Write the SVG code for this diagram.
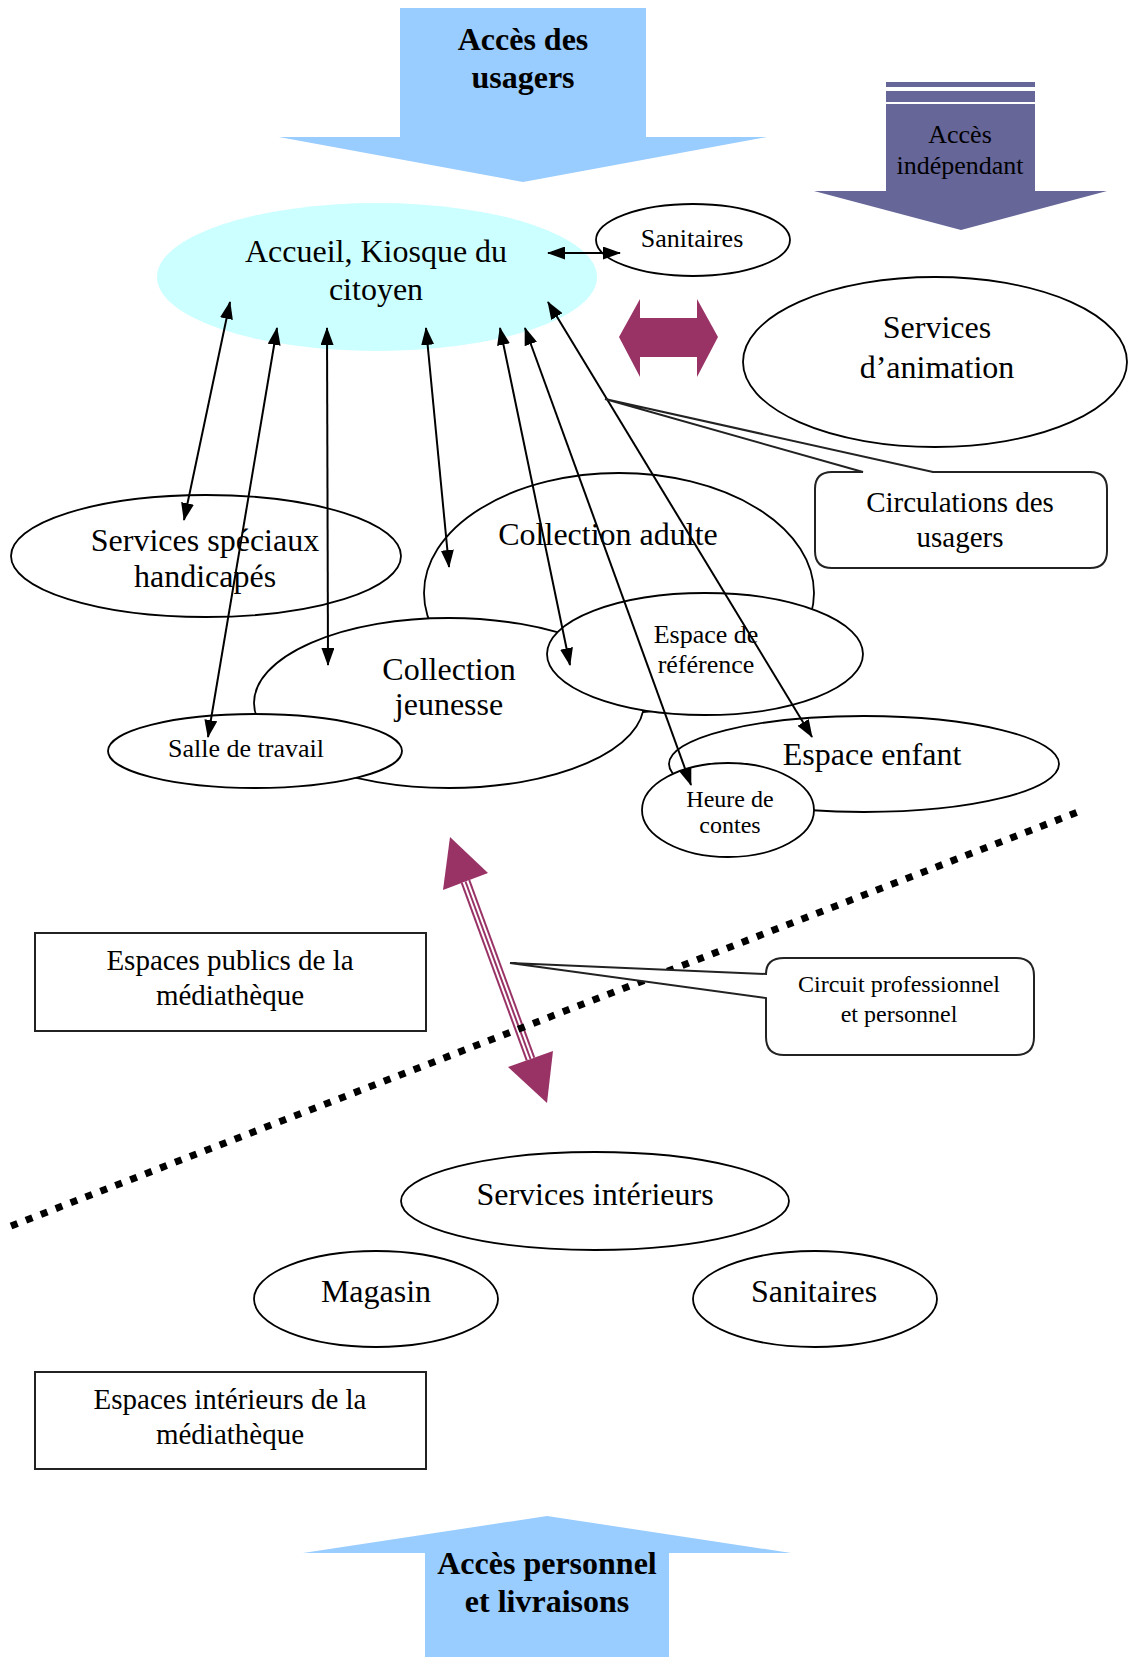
<svg xmlns="http://www.w3.org/2000/svg" width="1129" height="1657" viewBox="0 0 1129 1657">
<style>
text{font-family:"Liberation Serif","Times New Roman",serif;fill:#000;text-anchor:middle}
.big{font-size:32px}
.mid{font-size:29px}
.sm{font-size:26px}
.xs{font-size:24px}
.bold{font-weight:bold;font-size:32px}
.node{fill:#fff;stroke:#000;stroke-width:1.8}
.box{fill:#fff;stroke:#222;stroke-width:2}
.conn{stroke:#000;stroke-width:2;fill:none;marker-start:url(#ah);marker-end:url(#ah)}
.blue{fill:#99CCFF}
.purple{fill:#993366}
.indep{fill:#666699}
</style>
<defs>
<marker id="ah" viewBox="0 0 18 13" refX="17" refY="6.5" markerWidth="18" markerHeight="13" markerUnits="userSpaceOnUse" orient="auto-start-reverse">
<path d="M0,0 L18,6.5 L0,13 z" fill="#000"/>
</marker>
</defs>

<g id="acces-usagers">
<polygon class="blue" points="400,8 646,8 646,137 767,137 523,182 279,137 400,137"/>
<text class="bold" x="523" y="50">Accès des</text>
<text class="bold" x="523" y="88">usagers</text>
</g>

<g id="acces-independant">
<rect class="indep" x="886" y="82" width="149" height="5"/>
<rect class="indep" x="886" y="91" width="149" height="11"/>
<polygon class="indep" points="886,104 1035,104 1035,191 1107,191 961,230 814,191 886,191"/>
<text class="sm" x="960" y="143">Accès</text>
<text class="sm" x="960" y="174">indépendant</text>
</g>

<g id="accueil">
<ellipse cx="377" cy="277" rx="220" ry="74" fill="#CCFFFF"/>
<text class="big" x="376" y="262">Accueil, Kiosque du</text>
<text class="big" x="376" y="300">citoyen</text>
</g>

<g id="sanitaires-haut">
<ellipse class="node" cx="693" cy="240" rx="97" ry="36"/>
<text class="sm" x="692" y="247">Sanitaires</text>
</g>

<g id="fleche-animation">
<polygon class="purple" points="619,337 640,299 640,318 697,318 697,299 718,337 697,377 697,357 640,357 640,377"/>
</g>

<g id="services-animation">
<ellipse class="node" cx="935" cy="362" rx="192" ry="85"/>
<text class="big" x="937" y="338">Services</text>
<text class="big" x="937" y="378">d’animation</text>
</g>

<g id="services-speciaux">
<ellipse class="node" cx="206" cy="556" rx="195" ry="61"/>
<text class="big" x="205" y="551">Services spéciaux</text>
<text class="big" x="205" y="587">handicapés</text>
</g>

<g id="collection-adulte">
<ellipse class="node" cx="619" cy="593" rx="195" ry="120"/>
<text class="big" x="608" y="545">Collection adulte</text>
</g>

<g id="collection-jeunesse">
<ellipse class="node" cx="449" cy="703" rx="195" ry="85"/>
<text class="big" x="449" y="680">Collection</text>
<text class="big" x="449" y="715">jeunesse</text>
</g>

<g id="espace-reference">
<ellipse class="node" cx="705" cy="654" rx="158" ry="61"/>
<text class="sm" x="706" y="643">Espace de</text>
<text class="sm" x="706" y="673">référence</text>
</g>

<g id="salle-travail">
<ellipse class="node" cx="255" cy="751" rx="147" ry="37"/>
<text class="sm" x="246" y="757">Salle de travail</text>
</g>

<g id="espace-enfant">
<ellipse class="node" cx="864" cy="764" rx="195" ry="48"/>
<text class="big" x="872" y="765">Espace enfant</text>
</g>

<g id="heure-contes">
<ellipse class="node" cx="728" cy="810" rx="86" ry="47"/>
<text class="xs" x="730" y="807">Heure de</text>
<text class="xs" x="730" y="833">contes</text>
</g>

<g id="connecteurs">
<line class="conn" x1="548" y1="253" x2="620" y2="253"/>
<line class="conn" x1="230" y1="302" x2="184" y2="520"/>
<line class="conn" x1="277" y1="328" x2="208" y2="737"/>
<line class="conn" x1="327" y1="328" x2="328" y2="665"/>
<line class="conn" x1="426" y1="328" x2="449" y2="567"/>
<line class="conn" x1="500" y1="328" x2="570" y2="665"/>
<line class="conn" x1="525" y1="328" x2="691" y2="785"/>
<line class="conn" x1="548" y1="302" x2="812" y2="737"/>
</g>

<g id="circulations-usagers">
<path class="box" d="M605,399 L933,472 L1090,472 Q1107,472 1107,489 L1107,551 Q1107,568 1090,568 L832,568 Q815,568 815,551 L815,489 Q815,472 832,472 L863,472 Z"/>
<text class="mid" x="960" y="512">Circulations des</text>
<text class="mid" x="960" y="547">usagers</text>
</g>

<g id="fleche-professionnelle">
<polygon class="purple" points="450,837 488,873 443,890"/>
<polygon class="purple" points="547,1103 508,1067 553,1051"/>
<line x1="465.5" y1="881.5" x2="530.5" y2="1059" stroke="#993366" stroke-width="10"/>
<line x1="465.5" y1="881.5" x2="530.5" y2="1059" stroke="#fff" stroke-width="6"/>
<line x1="465.5" y1="881.5" x2="530.5" y2="1059" stroke="#993366" stroke-width="2"/>
</g>

<g id="limite">
<line x1="11" y1="1226" x2="1078" y2="812" stroke="#000" stroke-width="7" stroke-dasharray="7 9"/>
</g>

<g id="espaces-publics">
<rect class="box" x="35" y="933" width="391" height="98"/>
<text class="mid" x="230" y="970">Espaces publics de la</text>
<text class="mid" x="230" y="1005">médiathèque</text>
</g>

<g id="circuit-professionnel">
<path class="box" d="M510,963 L766,974 Q766,958 784,958 L1016,958 Q1034,958 1034,976 L1034,1037 Q1034,1055 1016,1055 L784,1055 Q766,1055 766,1037 L766,998 Z"/>
<text class="xs" x="899" y="992">Circuit professionnel</text>
<text class="xs" x="899" y="1022">et personnel</text>
</g>

<g id="services-interieurs">
<ellipse class="node" cx="595" cy="1201" rx="194" ry="49"/>
<text class="big" x="595" y="1205">Services intérieurs</text>
</g>

<g id="magasin">
<ellipse class="node" cx="376" cy="1299" rx="122" ry="48"/>
<text class="big" x="376" y="1302">Magasin</text>
</g>

<g id="sanitaires-bas">
<ellipse class="node" cx="815" cy="1299" rx="122" ry="48"/>
<text class="big" x="814" y="1302">Sanitaires</text>
</g>

<g id="espaces-interieurs">
<rect class="box" x="35" y="1372" width="391" height="97"/>
<text class="mid" x="230" y="1409">Espaces intérieurs de la</text>
<text class="mid" x="230" y="1444">médiathèque</text>
</g>

<g id="acces-personnel">
<polygon class="blue" points="425,1657 425,1553 303,1553 547,1516 791,1553 669,1553 669,1657"/>
<text class="bold" x="547" y="1574">Accès personnel</text>
<text class="bold" x="547" y="1612">et livraisons</text>
</g>
</svg>
